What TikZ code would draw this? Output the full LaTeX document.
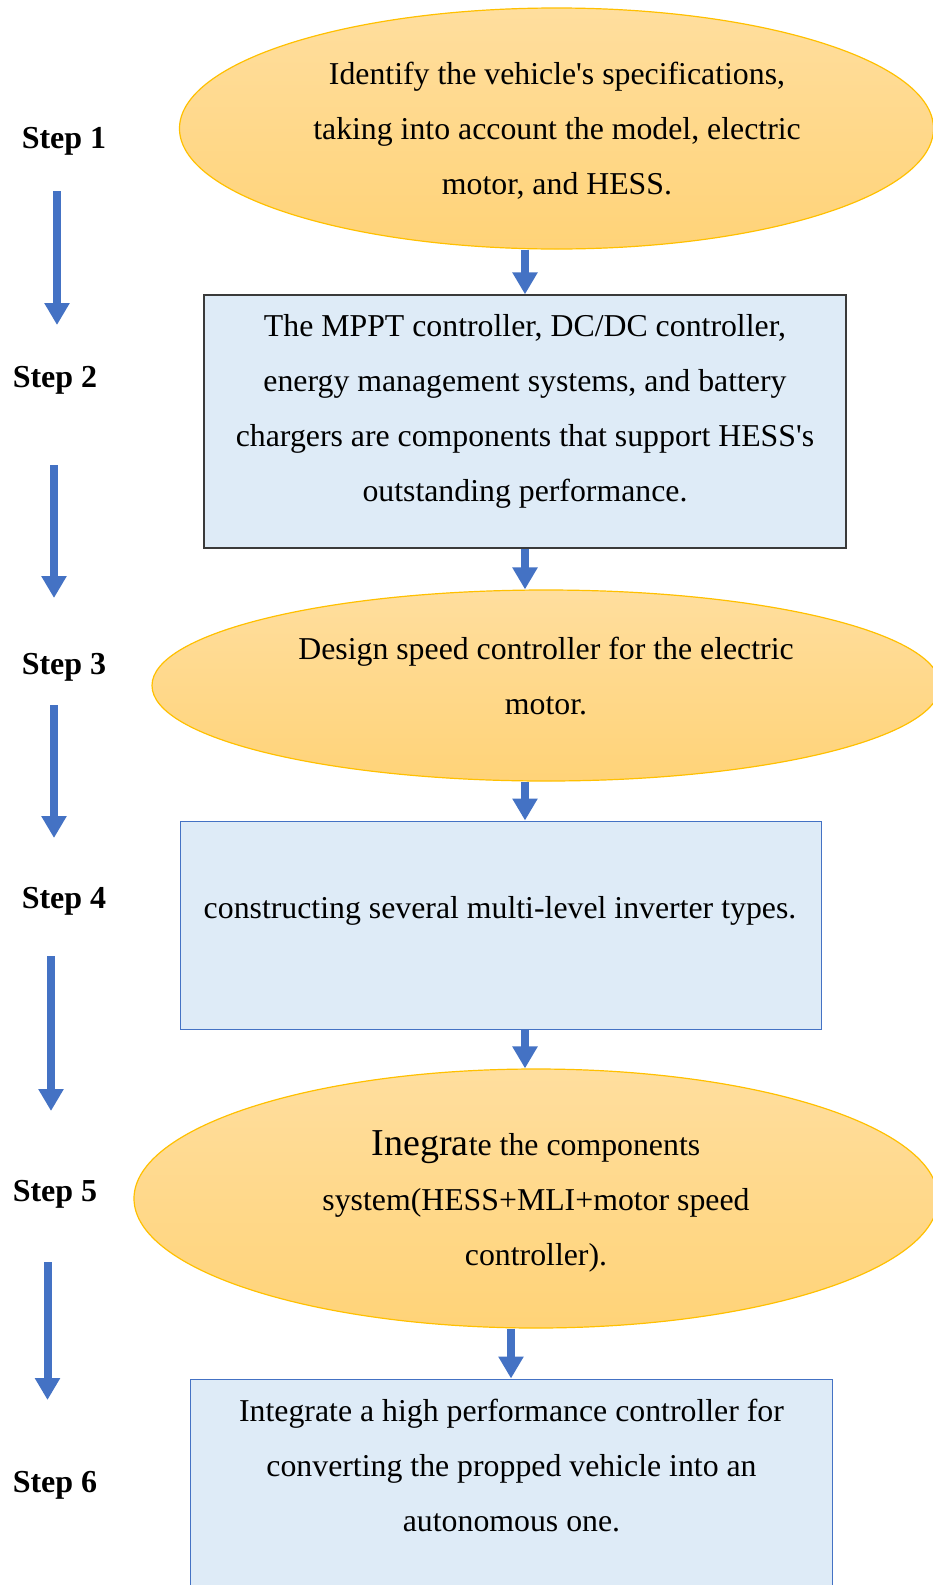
\documentclass[tikz,border=0pt]{standalone}
\usepackage{fontspec}
\setmainfont{Liberation Serif}[Ligatures=TeXOff]
\usetikzlibrary{shapes.geometric,arrows.meta}

\definecolor{flowblue}{HTML}{4472C4}
\definecolor{boxfill}{HTML}{DEEBF7}
\definecolor{goldedge}{HTML}{FFC000}
\definecolor{goldtop}{HTML}{FFDE9E}
\definecolor{goldbot}{HTML}{FFD378}
\definecolor{darkedge}{HTML}{3A3A3A}

\tikzset{
  oval/.style={ellipse, draw=goldedge, line width=1.2pt, top color=goldtop, bottom color=goldbot, inner sep=0pt},
  stepbox/.style={rectangle, draw=flowblue, line width=1pt, fill=boxfill, inner sep=0pt},
  body/.style={align=center, font=\fontsize{31.8}{55}\selectfont, inner sep=0pt},
  steplabel/.style={font=\bfseries\fontsize{32}{37}\selectfont, inner sep=0pt},
  flow/.style={draw=flowblue, line width=8pt, -{Triangle[width=24pt,length=22pt]}},
}

\begin{document}
\begin{tikzpicture}[x=1pt,y=-1pt]
  \useasboundingbox (0,0) rectangle (933,1585);
  \fill[white] (0,0) rectangle (933,1585);
  \clip (0,0) rectangle (933,1585);

  % shapes of the six stages
  \node[oval, minimum width=754pt, minimum height=241pt] (e1) at (556.5,128.5) {};
  \node[stepbox, draw=darkedge, line width=1.3pt, minimum width=642pt, minimum height=253pt] (b2) at (525,421.5) {};
  \node[oval, minimum width=788pt, minimum height=191pt] (e3) at (546,685.5) {};
  \node[stepbox, minimum width=641pt, minimum height=208pt] (b4) at (500.5,925) {};
  \node[oval, minimum width=804pt, minimum height=259pt] (e5) at (536,1198.5) {};
  \node[stepbox, minimum width=642pt, minimum height=221pt] (b6) at (511,1489.5) {};

  % stage texts
  \node[body] (t1) at (557,130.5) {Identify the vehicle's specifications,\\ taking into account the model, electric\\ motor, and HESS.};
  \node[body] (t2) at (525,411) {The MPPT controller, DC/DC controller,\\ energy management systems, and battery\\ chargers are components that support HESS's\\ outstanding performance.};
  \node[body] (t3) at (546,676.5) {Design speed controller for the electric\\ motor.};
  \node[body] (t4) at (500,911) {constructing several multi-level inverter types.};
  \node[body] (t5) at (536,1201.5) {{\fontsize{38}{55}\selectfont Inegra}te the components\\ system(HESS+MLI+motor speed\\ controller).};
  \node[body] (t6) at (511.5,1465.5) {Integrate a high performance controller for\\ converting the propped vehicle into an\\ autonomous one.};

  % connectors between stages
  \draw[flow] (b2.north |- e1.south) -- (b2.north);
  \draw[flow] (b2.south) -- (b2.south |- e3.north);
  \draw[flow] (b2.south |- e3.south) -- (b2.south |- b4.north);
  \draw[flow] (b2.south |- b4.south) -- (b2.south |- e5.north);
  \draw[flow] (b6.north |- e5.south) -- (b6.north);

  % step labels
  \node[steplabel] (s1) at (64,141.5) {Step 1};
  \node[steplabel] (s2) at (55,380.5) {Step 2};
  \node[steplabel] (s3) at (64,667.5) {Step 3};
  \node[steplabel] (s4) at (64,901.5) {Step 4};
  \node[steplabel] (s5) at (55,1194.5) {Step 5};
  \node[steplabel] (s6) at (55,1485.5) {Step 6};

  % arrows in the step column
  \coordinate (l1a) at (57,191);   \coordinate (l1b) at (57,325);
  \coordinate (l2a) at (54,465);   \coordinate (l2b) at (54,598);
  \coordinate (l3a) at (54,705);   \coordinate (l3b) at (54,838);
  \coordinate (l4a) at (51,956);   \coordinate (l4b) at (51,1111);
  \coordinate (l5a) at (47.5,1262); \coordinate (l5b) at (47.5,1400);
  \draw[flow] (l1a) -- (l1b);
  \draw[flow] (l2a) -- (l2b);
  \draw[flow] (l3a) -- (l3b);
  \draw[flow] (l4a) -- (l4b);
  \draw[flow] (l5a) -- (l5b);
\end{tikzpicture}
\end{document}
